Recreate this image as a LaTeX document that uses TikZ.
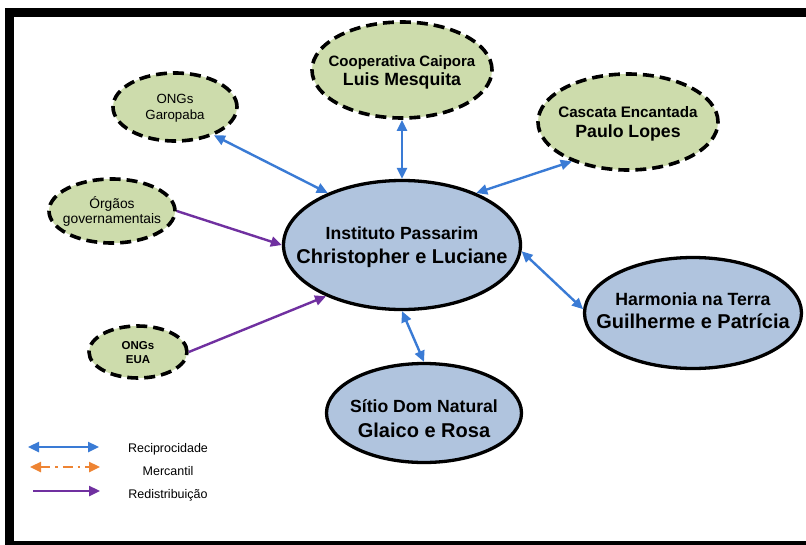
\documentclass[tikz,border=0pt]{standalone}
\usepackage{fontspec}
\setmainfont{Liberation Sans}
\usetikzlibrary{shapes.geometric,arrows.meta}
\definecolor{gfill}{HTML}{CDDCAC}
\definecolor{bfill}{HTML}{B0C4DE}
\definecolor{recip}{HTML}{3A7BD5}
\definecolor{merc}{HTML}{EE8433}
\definecolor{redis}{HTML}{7030A0}
\newcommand\tline[1]{\smash{\makebox[0pt]{#1}}}
\newcommand\twotext[3]{\rule{0pt}{#1pt}\tline{#2}\\\tline{#3}}
\tikzset{
  mainnode/.style={ellipse, draw=black, line width=3.3pt, fill=bfill, inner sep=0pt, align=center, text=black},
  sidenode/.style={ellipse, draw=black, line width=3.6pt, fill=gfill, inner sep=0pt, align=center, text=black,
    dash pattern=on 11pt off 6pt},
  reciparrow/.style={draw=recip, line width=2.4pt, {Triangle[length=11pt,width=10pt]}-{Triangle[length=11pt,width=10pt]}},
  mercarrow/.style={draw=merc, line width=2.4pt, dash pattern=on 10pt off 5pt on 2.5pt off 5pt,
    {Triangle[length=11pt,width=10pt]}-{Triangle[length=11pt,width=10pt]}},
  redisarrow/.style={draw=redis, line width=2.4pt, -{Triangle[length=11pt,width=10pt]}},
  legendtext/.style={anchor=base, font=\fontsize{12.5}{15}\selectfont, inner sep=0pt}
}
\begin{document}
\begin{tikzpicture}[x=1pt,y=-1pt]
\useasboundingbox (0,0) rectangle (806,544);
\clip (0,0) rectangle (806,544);
\fill[white] (0,0) rectangle (806,544);
\draw[line width=9pt] (9,12.5) rectangle (830,545);

\node[mainnode, minimum width=237pt, minimum height=129pt, font=\fontsize{20}{24}\selectfont\bfseries] (inst) at (402,245)
  {\twotext{12}{\fontsize{17.6}{20}\selectfont Instituto Passarim}{Christopher e Luciane}};
\node[mainnode, minimum width=217pt, minimum height=111pt, font=\fontsize{20}{23}\selectfont\bfseries] (harm) at (693,313)
  {\twotext{7}{\fontsize{17.7}{20}\selectfont Harmonia na Terra}{Guilherme e Patrícia}};
\node[mainnode, minimum width=195pt, minimum height=99pt, font=\fontsize{20}{25}\selectfont\bfseries] (sitio) at (424,413)
  {\twotext{23}{\fontsize{17.6}{20}\selectfont Sítio Dom Natural}{Glaico e Rosa}};

\node[sidenode, minimum width=180pt, minimum height=96pt, font=\fontsize{17.7}{19}\selectfont\bfseries] (coop) at (402,70)
  {\twotext{11}{\fontsize{15}{17}\selectfont Cooperativa Caipora}{Luis Mesquita}};
\node[sidenode, minimum width=180pt, minimum height=96pt, font=\fontsize{17.7}{20}\selectfont\bfseries] (casc) at (628,122)
  {\twotext{10}{\fontsize{15.2}{17}\selectfont Cascata Encantada}{Paulo Lopes}};
\node[sidenode, minimum width=124pt, minimum height=68pt, font=\fontsize{13.3}{16}\selectfont] (garo) at (175,107)
  {\twotext{8}{ONGs}{Garopaba}};
\node[sidenode, minimum width=126pt, minimum height=64pt, font=\fontsize{13.8}{15}\selectfont] (org) at (112,211)
  {\twotext{9}{Órgãos}{governamentais}};
\node[sidenode, minimum width=98pt, minimum height=52pt, font=\fontsize{11.5}{14}\selectfont\bfseries] (eua) at (138,352)
  {\twotext{8}{ONGs}{EUA}};

\draw[reciparrow] (garo.-36) -- (inst.145);
\draw[reciparrow] (coop.south) -- (inst.north);
\draw[reciparrow] (casc.215) -- (inst.35);
\draw[reciparrow] (inst.-3) -- (harm.178);
\draw[reciparrow] (inst.south) -- (sitio.north);
\draw[redisarrow] (org.east) -- (inst.west);
\draw[redisarrow] (eua.east) -- (inst.214);

\coordinate (r1) at (28,447);
\coordinate (r2) at (99,447);
\coordinate (m1) at (30,467);
\coordinate (m2) at (100,467);
\coordinate (d1) at (33,491);
\coordinate (d2) at (100,491);
\draw[reciparrow] (r1) -- (r2);
\draw[mercarrow] (m1) -- (m2);
\draw[redisarrow] (d1) -- (d2);
\node[legendtext] (lr) at (168,452) {Reciprocidade};
\node[legendtext] (lm) at (168,475) {Mercantil};
\node[legendtext] (ld) at (168,498) {Redistribuição};
\end{tikzpicture}
\end{document}
